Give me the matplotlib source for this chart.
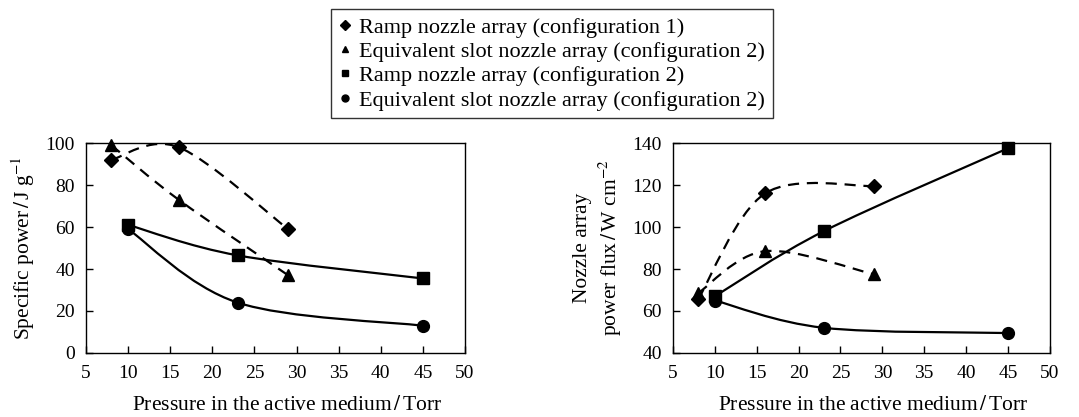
import matplotlib.pyplot as plt
import numpy as np
from matplotlib.path import Path
from matplotlib.patches import PathPatch
from matplotlib.lines import Line2D

plt.rcParams['font.family'] = 'Liberation Serif'
plt.rcParams['mathtext.fontset'] = 'stix'
plt.rcParams['font.size'] = 14

# data
ramp1_x = [8, 16, 29]
slot1_x = [8, 16, 29]
ramp2_x = [10, 23, 45]
slot2_x = [10, 23, 45]

# specific power, J/g
sp_ramp1 = [92, 98, 59]
sp_slot1 = [99, 73, 37]
sp_ramp2 = [61, 46.5, 35.5]
sp_slot2 = [59, 24, 13]

# power flux, W/cm2
pf_ramp1 = [65.5, 116, 119.5]
pf_slot1 = [68.5, 88.5, 77.5]
pf_ramp2 = [67, 98, 137.5]
pf_slot2 = [65, 52, 49.5]

labels = ['Ramp nozzle array (configuration 1)',
          'Equivalent slot nozzle array (configuration 2)',
          'Ramp nozzle array (configuration 2)',
          'Equivalent slot nozzle array (configuration 2)']
markers = ['D', '^', 's', 'o']
msizes = [7, 8, 8, 8.5]


def smooth(ax, x, y, ls):
    # excel-like smoothed line (catmull-rom as cubic beziers)
    p = np.column_stack([x, y]).astype(float)
    n = len(p)
    verts = [p[0]]
    codes = [Path.MOVETO]
    for i in range(n - 1):
        p0 = p[max(i - 1, 0)]
        p3 = p[min(i + 2, n - 1)]
        c1 = p[i] + (p[i + 1] - p0) / 6
        c2 = p[i + 1] - (p3 - p[i]) / 6
        verts += [c1, c2, p[i + 1]]
        codes += [Path.CURVE4] * 3
    patch = PathPatch(Path(verts, codes), fill=False, lw=1.6, ec='black',
                      capstyle='butt')
    if ls == 'dashed':
        patch.set_linestyle((0, (5, 3.5)))
    ax.add_patch(patch)


def panel(ax, series):
    for (x, y), ls, m, ms in zip(series, ['dashed', 'dashed', 'solid', 'solid'],
                                 markers, msizes):
        smooth(ax, x, y, ls)
        ax.plot(x, y, ls='none', marker=m, ms=ms, color='black', zorder=3,
                clip_on=False)
    ax.set_xlim(5, 50)
    ax.set_xticks(np.arange(5, 51, 5))
    ax.tick_params(direction='in', length=5, width=1, top=False, right=False,
                   labelsize=14)
    ax.tick_params(axis='x', pad=9)
    ax.tick_params(axis='y', pad=8)
    for s in ax.spines.values():
        s.set_linewidth(1)
    ax.set_xlabel('Pressure in the active medium$\\,/\\,$Torr', fontsize=15.5,
                  labelpad=10, x=0.53)


fig = plt.figure(figsize=(10.79, 4.17), dpi=100)
ax1 = fig.add_axes([0.0797, 0.1535, 0.3513, 0.5035])
ax2 = fig.add_axes([0.6237, 0.1535, 0.3493, 0.5035])

panel(ax1, [(ramp1_x, sp_ramp1), (slot1_x, sp_slot1),
            (ramp2_x, sp_ramp2), (slot2_x, sp_slot2)])
ax1.set_ylim(0, 100)
ax1.set_yticks(np.arange(0, 101, 20))
ax1.set_ylabel('Specific power$\\,/\\,$J g$^{-1}$', fontsize=15.5, labelpad=6)

panel(ax2, [(ramp1_x, pf_ramp1), (slot1_x, pf_slot1),
            (ramp2_x, pf_ramp2), (slot2_x, pf_slot2)])
ax2.set_ylim(40, 140)
ax2.set_yticks(np.arange(40, 141, 20))
ax2.set_ylabel('Nozzle array\npower flux$\\,/\\,$W cm$^{-2}$', fontsize=15.5,
               labelpad=6, linespacing=1.25)

handles = [Line2D([], [], ls='none', marker=m, ms=5, color='black')
           for m in markers]
leg = fig.legend(handles, labels, loc='upper center',
                 bbox_to_anchor=(0.5115, 0.978), fontsize=16, frameon=True,
                 fancybox=False, edgecolor='black', handlelength=0.5,
                 handletextpad=0.4, labelspacing=0.17, borderpad=0.35,
                 borderaxespad=0)
leg.get_frame().set_linewidth(1)

fig.savefig('out.png', dpi=100)
